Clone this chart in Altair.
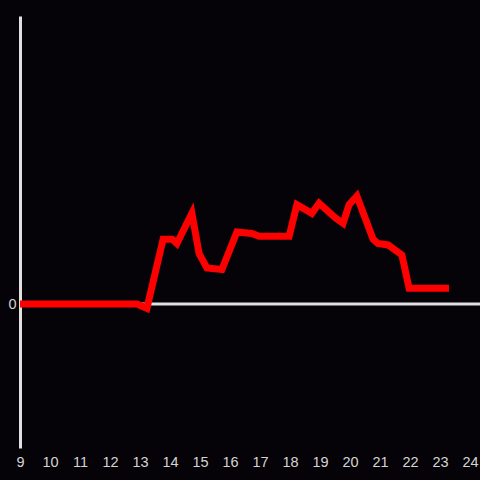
import altair as alt
import pandas as pd

hours = [9, 12.9, 13.23, 13.77, 14.07, 14.23, 14.73, 14.97, 15.23, 15.73, 16.23, 16.73,
         16.97, 17.73, 17.97, 18.23, 18.73, 18.97, 19.5, 19.77, 19.97, 20.23, 20.77,
         20.93, 21.27, 21.73, 21.97, 23.3]
values = [0, 0, -0.03, 0.45, 0.45, 0.42, 0.63, 0.35, 0.25, 0.24, 0.5, 0.49,
          0.47, 0.47, 0.47, 0.69, 0.63, 0.70, 0.60, 0.56, 0.69, 0.75, 0.45,
          0.42, 0.41, 0.34, 0.11, 0.11]
x_ticks = list(range(9, 25))

BG = "#050307"

# Make the page itself dark and margin-free (the reference has no white border).
page_ok = False
try:
    import altair.utils.html as _ah
    _tpl = _ah.TEMPLATES["standard"]
    _orig_render = type(_tpl).render

    def _render(*args, **kwargs):
        html = _orig_render(_tpl, *args, **kwargs)
        return html.replace(
            "<head>",
            "<head><style>html,body{margin:0;padding:0;background:%s;overflow:hidden}</style>" % BG,
            1,
        )

    _tpl.render = _render
    page_ok = True
except Exception:
    page_ok = False

df = pd.DataFrame({"h": hours, "v": values})
zero = pd.DataFrame({"v": [0]})

xs = alt.Scale(domain=[9, 24.3333], nice=False, zero=False)
ys = alt.Scale(domain=[-1, 2], nice=False, zero=False)

label_style = dict(labelColor="#d4d4d4", labelFontSize=14.5, labelFont="Liberation Sans")

line = alt.Chart(df).mark_line(color="#ff0000", strokeWidth=7, clip=True).encode(
    x=alt.X("h:Q", scale=xs, axis=alt.Axis(values=x_ticks, title=None, domain=False, ticks=False,
                                         grid=False, labelPadding=7, labelFlush=False,
                                         format="d", **label_style)),
    y=alt.Y("v:Q", scale=ys, axis=alt.Axis(values=[0], title=None, domain=True, domainColor="#e0e0e0",
                                         domainWidth=3, ticks=False, grid=False, format="d",
                                         labelPadding=4, **label_style)),
)

rule = alt.Chart(zero).mark_rule(color="#e0e0e0", strokeWidth=3).encode(y=alt.Y("v:Q", scale=ys))

if page_ok:
    pad = {"left": 20, "top": 16, "right": 0, "bottom": 32}
else:
    pad = {"left": 12, "top": 8, "right": 0, "bottom": 20}

chart = alt.layer(rule, line).properties(
    width=460, height=432, background=BG,
    padding=pad,
    autosize=alt.AutoSizeParams(type="none"),
).configure_view(stroke=None)

chart.save("out.html", embed_options={"renderer": "svg", "actions": False})
